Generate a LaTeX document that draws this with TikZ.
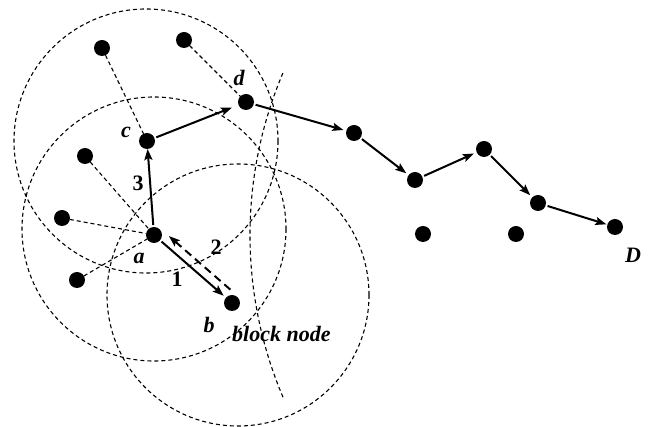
\documentclass[tikz,border=0pt]{standalone}
\usepackage{fontspec}
\setmainfont{Liberation Serif}
\usetikzlibrary{arrows.meta,calc}
\begin{document}
\begin{tikzpicture}[x=1pt,y=-1pt,
  dot/.style={circle,fill=black,inner sep=0pt,minimum size=16pt,outer sep=0pt},
  rangecircle/.style={dash pattern=on 4pt off 3pt, line width=1.1pt},
  nblink/.style={dash pattern=on 4pt off 3pt, line width=1.1pt},
  hoptip/.style={-{Stealth[length=11pt,width=8pt,inset=2pt]}},
  hop/.style={hoptip, line width=2pt, shorten <=2pt, shorten >=3pt},
  backhop/.style={hoptip, line width=2pt, dash pattern=on 8pt off 5pt},
  lbl/.style={font=\fontsize{22}{25}\selectfont\bfseries\itshape, inner sep=0pt},
  num/.style={font=\fontsize{22}{25}\selectfont\bfseries, inner sep=0pt}]
\useasboundingbox (0,0) rectangle (649,427);

% transmission ranges and the far boundary
\begin{scope}
  \clip (0,0) rectangle (649,427);
  \draw[rangecircle] (146,141) circle[radius=132];
  \draw[rangecircle] (154,229) circle[radius=132];
  \draw[rangecircle] (238,295) circle[radius=131];
  \draw[rangecircle] (665,235) ++(157:415) arc[start angle=157, end angle=203, radius=415];
\end{scope}

% nodes
\node[dot] (n1) at (102,48) {};
\node[dot] (n2) at (184,40) {};
\node[dot] (d)  at (246,102) {};
\node[dot] (c)  at (147,141) {};
\node[dot] (n3) at (85,156) {};
\node[dot] (n4) at (62,218) {};
\node[dot] (a)  at (154,235) {};
\node[dot] (n5) at (77,280) {};
\node[dot] (b)  at (232,303) {};
\node[dot] (p1) at (354,133) {};
\node[dot] (p2) at (415,180) {};
\node[dot] (p3) at (484,149) {};
\node[dot] (p4) at (538,203) {};
\node[dot] (D)  at (615,227) {};
\node[dot] (q1) at (423,234) {};
\node[dot] (q2) at (516,234) {};

% neighbour links
\draw[nblink] (n1) -- (c);
\draw[nblink] (n2) -- (d);
\draw[nblink] (n3) -- (a);
\draw[nblink] (n4) -- (a);
\draw[nblink] (n5) -- (a);

% forwarding path
\draw[hop] (a) -- (b);
\draw[backhop, shorten <=10pt, shorten >=12pt]
  ($(b)!9pt!-90:(a)$) -- ($(a)!9pt!90:(b)$);
\draw[hop, shorten >=0pt] (a) -- (c);
\draw[hop, shorten >=7pt] (c) -- (d);
\draw[hop] (d) -- (p1);
\draw[hop] (p1) -- (p2);
\draw[hop] (p2) -- (p3);
\draw[hop] (p3) -- (p4);
\draw[hop, shorten >=1pt] (p4) -- (D);

% labels
\node[lbl] (ld) at (239,78) {d};
\node[lbl] (lc) at (126,132) {c};
\node[lbl] (la) at (139,258) {a};
\node[lbl] (lb) at (209,325) {b};
\node[lbl, anchor=west] (lblock) at (232,334) {block node};
\node[lbl] (lD) at (633,255) {D};
\node[num] (l3) at (138,183) {3};
\node[num] (l1) at (177,279) {1};
\node[num] (l2) at (216,247) {2};
\end{tikzpicture}
\end{document}
